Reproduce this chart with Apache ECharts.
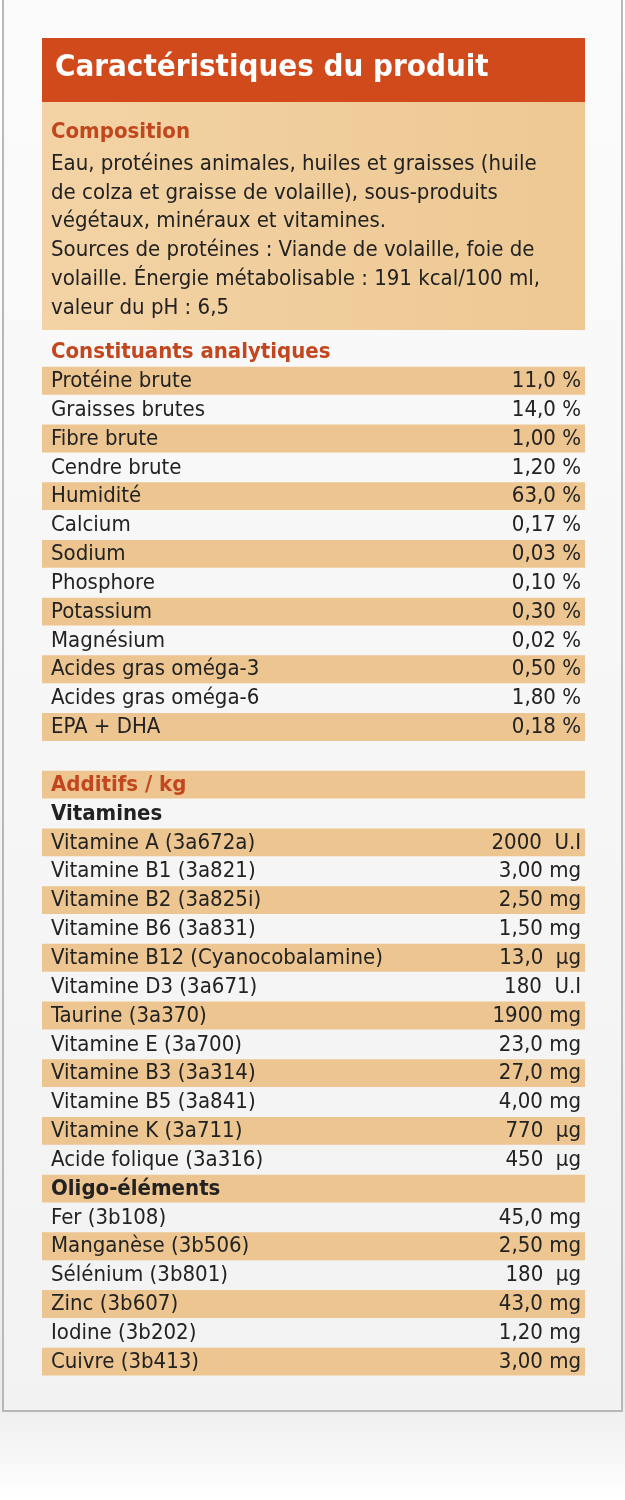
<!DOCTYPE html>
<html>
<head>
<meta charset="utf-8">
<script src="https://cdn.jsdelivr.net/npm/echarts@6/dist/echarts.min.js"></script>
<style>
  html, body { margin: 0; padding: 0; background: #fff; }
  #chart { width: 625px; height: 1500px; }
</style>
</head>
<body>
<div id="chart"></div>
<script>
const title = "Caractéristiques du produit";
const compositionTitle = "Composition";
const compositionLines = [
    "Eau, protéines animales, huiles et graisses (huile",
    "de colza et graisse de volaille), sous-produits",
    "végétaux, minéraux et vitamines.",
    "Sources de protéines : Viande de volaille, foie de",
    "volaille. Énergie métabolisable : 191 kcal/100 ml,",
    "valeur du pH : 6,5"
];
const analyticalTitle = "Constituants analytiques";
const analyticalLabels = ["Protéine brute", "Graisses brutes", "Fibre brute", "Cendre brute", "Humidité", "Calcium", "Sodium", "Phosphore", "Potassium", "Magnésium", "Acides gras oméga-3", "Acides gras oméga-6", "EPA + DHA"];
const analyticalValues = ["11,0 %", "14,0 %", "1,00 %", "1,20 %", "63,0 %", "0,17 %", "0,03 %", "0,10 %", "0,30 %", "0,02 %", "0,50 %", "1,80 %", "0,18 %"];
const additivesTitle = "Additifs / kg";
const vitaminTitle = "Vitamines";
const vitaminLabels = ["Vitamine A (3a672a)", "Vitamine B1 (3a821)", "Vitamine B2 (3a825i)", "Vitamine B6 (3a831)", "Vitamine B12 (Cyanocobalamine)", "Vitamine D3 (3a671)", "Taurine (3a370)", "Vitamine E (3a700)", "Vitamine B3 (3a314)", "Vitamine B5 (3a841)", "Vitamine K (3a711)", "Acide folique (3a316)"];
const vitaminValues = ["2000  U.I", "3,00 mg", "2,50 mg", "1,50 mg", "13,0  µg", "180  U.I", "1900 mg", "23,0 mg", "27,0 mg", "4,00 mg", "770  µg", "450  µg"];
const oligoTitle = "Oligo-éléments";
const oligoLabels = ["Fer (3b108)", "Manganèse (3b506)", "Sélénium (3b801)", "Zinc (3b607)", "Iodine (3b202)", "Cuivre (3b413)"];
const oligoValues = ["45,0 mg", "2,50 mg", "180  µg", "43,0 mg", "1,20 mg", "3,00 mg"];

// build table rows: [label, value, kind, striped]
let rows = [];
rows.push([analyticalTitle, "", "section", false]);
analyticalLabels.forEach((l, i) => rows.push([l, analyticalValues[i], "item", i % 2 === 0]));
rows.push(["", "", "blank", false]);
let add = [[additivesTitle, "", "section"], [vitaminTitle, "", "sub"]];
vitaminLabels.forEach((l, i) => add.push([l, vitaminValues[i], "item"]));
add.push([oligoTitle, "", "sub"]);
oligoLabels.forEach((l, i) => add.push([l, oligoValues[i], "item"]));
add.forEach((r, i) => rows.push([r[0], r[1], r[2], i % 2 === 0]));

const font = '"Liberation Sans Narrow", "DejaVu Sans Condensed", sans-serif';
const rowH = 28.85;
const tableTop = 338;

let chart = echarts.init(document.getElementById("chart"));
let option = {
    backgroundColor: {
        type: "linear", x: 0, y: 0, x2: 0, y2: 1,
        colorStops: [{ offset: 0, color: "#ffffff" }, { offset: 0.93, color: "#ececec" }, { offset: 1, color: "#ffffff" }]
    },
    animation: false,
    grid: { left: 42, right: 40, top: tableTop, height: rowH * rows.length },
    xAxis: { type: "value", min: 0, max: 1, show: false },
    yAxis: { type: "category", inverse: true, show: false, data: rows.map((r, i) => i) },
    graphic: [
        { type: "rect", z: -10, shape: { x: 3, y: -6, width: 619, height: 1417 },
          style: { fill: { type: "linear", x: 0, y: 0, x2: 0, y2: 1, colorStops: [{ offset: 0, color: "#fbfbfb" }, { offset: 1, color: "#f2f2f2" }] }, stroke: "#b8b8b8", lineWidth: 2 } },
        { type: "rect", shape: { x: 42, y: 38, width: 543, height: 64 }, style: { fill: "#d14a1b" } },
        { type: "text", left: 55, top: 52, style: { text: title, fill: "#fff", font: 'bold 31px ' + font } },
        { type: "rect", shape: { x: 42, y: 102, width: 543, height: 228 },
          style: { fill: { type: "linear", x: 0, y: 0, x2: 1, y2: 0, colorStops: [{ offset: 0, color: "#f3d3a5" }, { offset: 1, color: "#edc893" }] } } },
        { type: "text", left: 51, top: 121, style: { text: compositionTitle, fill: "#c2461e", font: 'bold 22px ' + font } },
        { type: "text", left: 51, top: 150, style: { text: compositionLines.join("\n"), fill: "#222", font: '22px ' + font, lineHeight: 28.7 } }
    ],
    series: [{
        type: "custom",
        data: rows.map((r, i) => [0, i]),
        encode: { x: 0, y: 1 },
        renderItem: function (params, api) {
            let r = rows[api.value(1)];
            let p = api.coord([0, api.value(1)]);
            let h = api.size([0, 1])[1];
            let x0 = api.coord([0, 0])[0], x1 = api.coord([1, 0])[0];
            let y0 = p[1] - h / 2;
            let children = [];
            if (r[3]) children.push({ type: "rect", shape: { x: x0, y: y0, width: x1 - x0, height: h - 1 }, style: { fill: "#ecc590" } });
            let color = r[2] === "section" ? "#c2461e" : "#222";
            let weight = r[2] === "item" ? "" : "bold ";
            children.push({ type: "text", style: { text: r[0], x: x0 + 9, y: p[1], verticalAlign: "middle", fill: color, font: weight + "22px " + font } });
            children.push({ type: "text", style: { text: r[1], x: x1 - 4, y: p[1], align: "right", verticalAlign: "middle", fill: "#222", font: "22px " + font } });
            return { type: "group", children: children };
        }
    }]
};
chart.setOption(option);
</script>
</body>
</html>
